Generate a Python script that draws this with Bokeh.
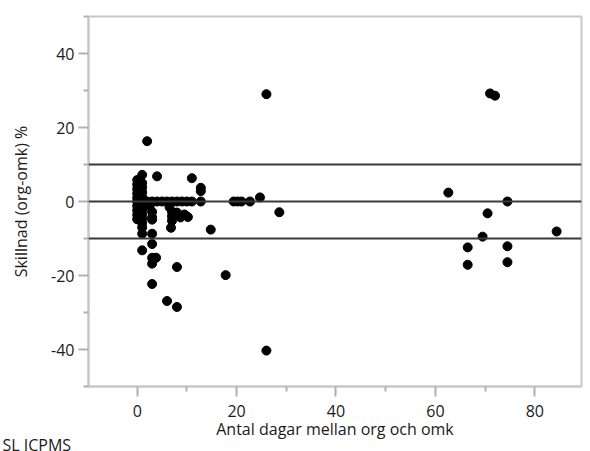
from bokeh.plotting import figure
from bokeh.models import Span, Title, FixedTicker, Range1d, PrintfTickFormatter
from bokeh.embed import file_html
from bokeh.resources import INLINE

# days between original and re-analysis
days = [
    2, 26, 26, 71, 72, 62.6, 74.5, 70.5, 69.5, 66.5, 74.5, 66.5, 74.5, 84.4,
    17.8, 14.8, 28.6, 24.7, 11, 12.8, 12.8,
    0, 1, 2, 3, 4, 5, 6, 7, 8, 9, 10, 11, 12.8, 19.4, 20.2, 21, 22.7,
    9.5, 10.2,
    8, 3, 3.8, 3, 3, 6, 8,
    1, 3, 1, 3,
    1, 4,
    0, 0, 0, 0, 0, 1, 1, 1, 1,
    0, 0, 0, 0, 1, 1, 1, 1, 1, 1,
    2.5, 3, 3, 3,
    6.5, 7, 7, 7, 6.8,
    8, 8.7,
]
# difference (org - omk) %
diff = [
    16.3, 29.0, -40.3, 29.2, 28.6, 2.4, 0, -3.2, -9.5, -12.4, -12.1, -17.1, -16.4, -8.1,
    -19.9, -7.6, -2.9, 1.1, 6.3, 3.7, 2.8,
    0, 0, 0, 0, 0, 0, 0, 0, 0, 0, 0, 0, 0, 0, 0, 0, 0,
    -3.5, -4.2,
    -17.7, -15.2, -15.2, -16.8, -22.3, -26.9, -28.5,
    -13.2, -11.5, -8.7, -8.7,
    7.2, 6.8,
    5.8, 4.6, 3.4, 2.2, 1.0, 5.0, 3.8, 2.5, 1.2,
    -1.2, -2.4, -3.6, -4.8, -1.0, -2.2, -3.4, -4.6, -5.8, -7.0,
    -1.2, -2.8, -4.3, -4.9,
    -1.5, -2.8, -4.0, -5.2, -7.1,
    -3.0, -4.3,
]
ref_lines = [10, 0, -10]
x_ticks = [0, 20, 40, 60, 80]
y_ticks = [-40, -20, 0, 20, 40]
x_title = "Antal dagar mellan org och omk"
y_title = "Skillnad (org-omk) %"
footer = "SL ICPMS"

FONT = "Open Sans"

p = figure(width=590, height=451, output_backend="svg", toolbar_location=None,
           x_range=Range1d(-9.8, 89.4), y_range=Range1d(-50, 50),
           min_border_left=88, min_border_right=9, min_border_top=16,
           min_border_bottom=65)
p.background_fill_color = "white"
p.border_fill_color = "white"
p.outline_line_color = "#c8c8c8"
p.outline_line_width = 2
p.grid.visible = False

for v in ref_lines:
    p.add_layout(Span(location=v, dimension="width", line_color="#3a3a3a", line_width=2))

p.scatter(days, diff, size=9, color="black")

p.xaxis.ticker = FixedTicker(ticks=x_ticks, minor_ticks=[-10, 10, 30, 50, 70, 90])
p.yaxis.ticker = FixedTicker(ticks=y_ticks, minor_ticks=[-50, -30, -10, 10, 30, 50])
for ax in (p.xaxis, p.yaxis):
    ax.formatter = PrintfTickFormatter(format="%d")
    ax.axis_line_color = "#c8c8c8"
    ax.axis_line_width = 2
    ax.major_tick_line_color = "#b0b0b0"
    ax.minor_tick_line_color = "#b0b0b0"
    ax.major_tick_line_width = 2
    ax.minor_tick_line_width = 2
    ax.major_tick_out = 10
    ax.major_tick_in = 0
    ax.minor_tick_out = 5
    ax.minor_tick_in = 0
    ax.major_label_text_font = FONT
    ax.major_label_text_font_size = "16px"
    ax.major_label_text_color = "#1a1a1a"
    ax.axis_label_text_font = FONT
    ax.axis_label_text_font_size = "16px"
    ax.axis_label_text_font_style = "normal"
    ax.axis_label_text_color = "#1a1a1a"

p.xaxis.axis_label = x_title
p.yaxis.axis_label = y_title
p.xaxis.major_label_standoff = 8
p.xaxis.axis_label_standoff = -2
p.yaxis.major_label_standoff = 4
p.yaxis.axis_label_standoff = 16

p.add_layout(Title(text=footer, align="left", offset=-86, standoff=-27,
                   text_font=FONT, text_font_size="16px", text_color="#1a1a1a",
                   text_font_style="normal"), "below")

open("out.html", "w").write(file_html(p, INLINE))
